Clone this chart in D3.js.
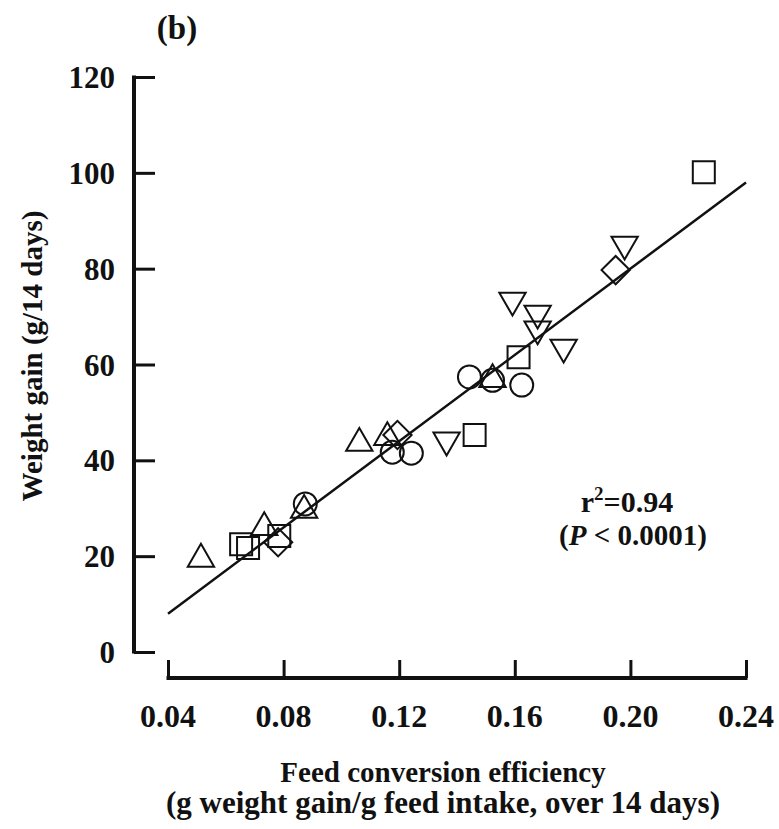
<!DOCTYPE html>
<html>
<head>
<meta charset="utf-8">
<script src="https://cdn.jsdelivr.net/npm/d3@7"></script>
<style>
    body { margin: 0; background: #fff; }
    text { font-family: "Liberation Serif", "Times New Roman", serif; font-weight: bold; fill: #111; }
</style>
</head>
<body>
<svg id="chart"></svg>
<script>
const width = 779, height = 829;

// data, one array per marker type
const squares   = [[0.0653, 22.5], [0.0677, 21.7], [0.0785, 24.2], [0.1461, 45.3], [0.1613, 61.5], [0.2254, 100.1]];
const circles   = [[0.0875, 30.9], [0.1176, 41.7], [0.1242, 41.5], [0.1443, 57.4], [0.1523, 56.7], [0.1624, 55.7]];
const triUp     = [[0.0514, 19.4], [0.0733, 26.0], [0.0871, 29.6], [0.1062, 43.6], [0.1159, 44.8], [0.1523, 56.9]];
const triDown   = [[0.1364, 44.2], [0.1592, 73.4], [0.1679, 70.7], [0.1679, 67.4], [0.1769, 63.6], [0.1980, 85.1]];
const diamonds  = [[0.0781, 22.9], [0.1194, 45.3], [0.1949, 79.7]];
const fitLine   = [[0.04, 8], [0.24, 98]];

const xTicks = [0.04, 0.08, 0.12, 0.16, 0.20, 0.24];
const yTicks = [0, 20, 40, 60, 80, 100, 120];

const svg = d3.select("#chart")
    .attr("width", width)
    .attr("height", height);

const x = d3.scaleLinear().domain([0.04, 0.24]).range([168, 746]);
const y = d3.scaleLinear().domain([0, 120]).range([652, 77]);

const yAxisX = 134, xAxisY = 678;

// y axis (ticks point inward)
const yAxis = svg.append("g").attr("transform", `translate(${yAxisX},0)`)
    .call(d3.axisRight(y).tickValues(yTicks).tickSize(21).tickFormat(""));
yAxis.select(".domain").remove();
yAxis.selectAll(".tick line").attr("stroke", "#111").attr("stroke-width", 3);
svg.append("line")
    .attr("x1", yAxisX).attr("x2", yAxisX)
    .attr("y1", y(120) - 1.5).attr("y2", y(0) + 1.5)
    .attr("stroke", "#111").attr("stroke-width", 4);
svg.selectAll(".ylab")
    .data(yTicks)
    .enter().append("text")
    .attr("class", "ylab")
    .attr("x", yAxisX - 19)
    .attr("y", d => y(d))
    .attr("dy", "0.36em")
    .attr("text-anchor", "end")
    .style("font-size", "31px")
    .text(d => d);

// x axis, detached below
const xAxis = svg.append("g").attr("transform", `translate(0,${xAxisY})`)
    .call(d3.axisTop(x).tickValues(xTicks).tickSize(18).tickFormat(""));
xAxis.select(".domain").remove();
xAxis.selectAll(".tick line").attr("stroke", "#111").attr("stroke-width", 3);
svg.append("line")
    .attr("x1", x(0.04) - 1.5).attr("x2", x(0.24) + 1.5)
    .attr("y1", xAxisY).attr("y2", xAxisY)
    .attr("stroke", "#111").attr("stroke-width", 4);
svg.selectAll(".xlab")
    .data(xTicks)
    .enter().append("text")
    .attr("class", "xlab")
    .attr("x", d => x(d))
    .attr("y", 727)
    .attr("text-anchor", "middle")
    .style("font-size", "32px")
    .text(d => d.toFixed(2));

// regression line
svg.append("line")
    .attr("x1", x(fitLine[0][0])).attr("y1", y(fitLine[0][1]))
    .attr("x2", x(fitLine[1][0])).attr("y2", y(fitLine[1][1]))
    .attr("stroke", "#111").attr("stroke-width", 2.5);

const drawMarks = (data, symbol, size, rotate) => {
    svg.append("g").selectAll("path")
        .data(data)
        .enter().append("path")
        .attr("d", d3.symbol().type(symbol).size(size))
        .attr("transform", d => `translate(${x(d[0])},${y(d[1])}) rotate(${rotate})`)
        .attr("fill", "none")
        .attr("stroke", "#111")
        .attr("stroke-width", 2);
};

drawMarks(squares, d3.symbolSquare, 484, 0);
drawMarks(circles, d3.symbolCircle, 415, 0);
drawMarks(triUp, d3.symbolTriangle, 300, 0);
drawMarks(triDown, d3.symbolTriangle, 300, 180);
drawMarks(diamonds, d3.symbolSquare, 400, 45);

// annotation
svg.append("text")
    .attr("x", 627).attr("y", 512)
    .attr("text-anchor", "middle")
    .style("font-size", "30px")
    .call(t => {
        t.append("tspan").text("r");
        t.append("tspan").attr("dy", -12).style("font-size", "19px").text("2");
        t.append("tspan").attr("dy", 12).text("=0.94");
    });
svg.append("text")
    .attr("x", 633).attr("y", 545)
    .attr("text-anchor", "middle")
    .style("font-size", "29px")
    .call(t => {
        t.append("tspan").text("(");
        t.append("tspan").style("font-style", "italic").text("P");
        t.append("tspan").text(" < 0.0001)");
    });

// panel label
svg.append("text")
    .attr("x", 177).attr("y", 39)
    .attr("text-anchor", "middle")
    .style("font-size", "33px")
    .text("(b)");

// axis titles
svg.append("text")
    .attr("transform", "translate(42,356) rotate(-90)")
    .attr("text-anchor", "middle")
    .style("font-size", "29px")
    .text("Weight gain (g/14 days)");

svg.append("text")
    .attr("x", 443).attr("y", 782)
    .attr("text-anchor", "middle")
    .style("font-size", "29px")
    .text("Feed conversion efficiency");
svg.append("text")
    .attr("x", 443).attr("y", 813)
    .attr("text-anchor", "middle")
    .style("font-size", "31px")
    .text("(g weight gain/g feed intake, over 14 days)");
</script>
</body>
</html>
